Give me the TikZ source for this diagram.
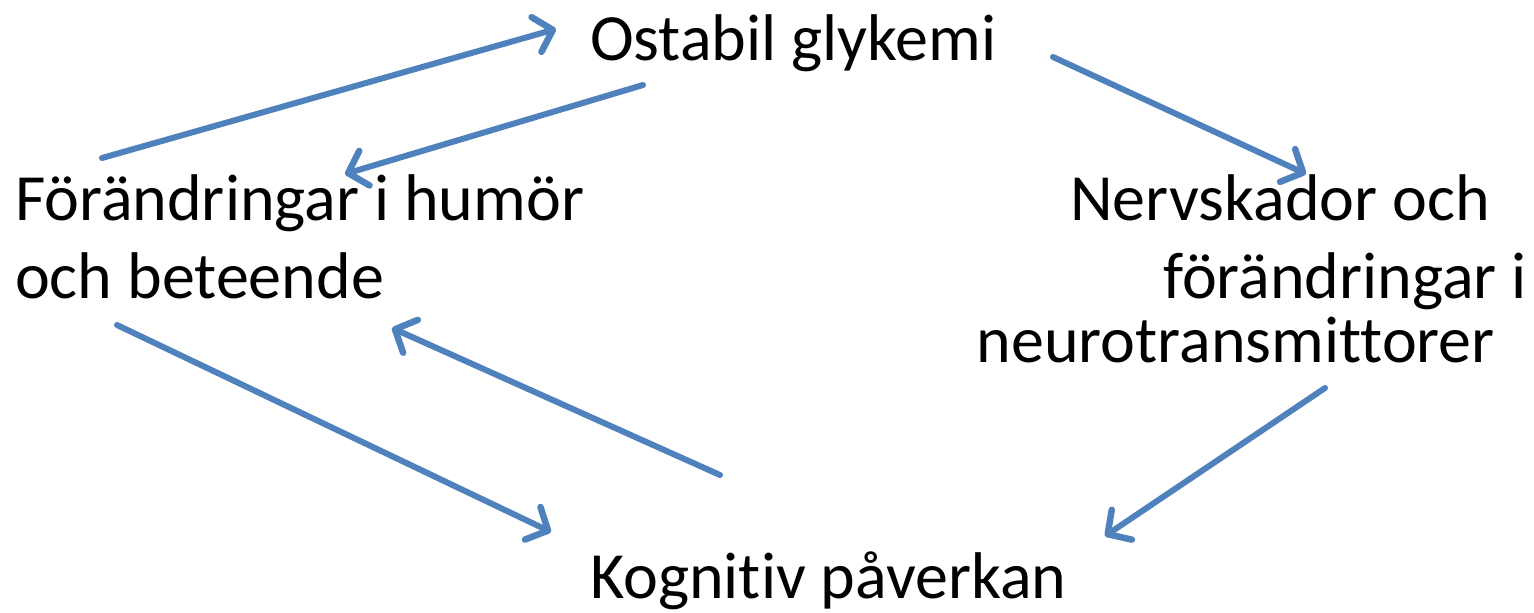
\documentclass[tikz,border=0pt]{standalone}
\usepackage{fontspec}
\setmainfont[Ligatures={NoCommon}]{Carlito}
\usetikzlibrary{arrows.meta}
\definecolor{linkblue}{HTML}{4F81BD}
\tikzset{
  label/.style={inner sep=0pt, font=\fontsize{66}{78}\selectfont},
  link/.style={draw=linkblue, line width=6pt, line cap=round,
    -{Straight Barb[length=17pt,width=36pt,line width=6.5pt,round]}}
}
\begin{document}
\begin{tikzpicture}[x=1pt,y=-1pt]
  \useasboundingbox (0,0) rectangle (1534,613);
  % states
  \node[label, anchor=base west] (glyk) at (590,60) {Ostabil glykemi};
  \node[label, anchor=base west] (hum1) at (15,220) {Förändringar i humör};
  \node[label, anchor=base west] (hum2) at (15,298) {och beteende};
  \node[label, anchor=base east] (nerv1) at (1490,220) {Nervskador och};
  \node[label, anchor=base east] (nerv2) at (1527,298) {förändringar i};
  \node[label, anchor=base east] (nerv3) at (1495,362) {neurotransmittorer};
  \node[label, anchor=base west] (kogn) at (590,598) {Kognitiv påverkan};
  % arrow end points
  \coordinate (a1s) at (102,158);  \coordinate (a1e) at (556,29);
  \coordinate (a2s) at (643,85);   \coordinate (a2e) at (345,174);
  \coordinate (a3s) at (1053,57);  \coordinate (a3e) at (1306,174);
  \coordinate (a4s) at (1325,388); \coordinate (a4e) at (1105,536);
  \coordinate (a5s) at (117,325);  \coordinate (a5e) at (551,532);
  \coordinate (a6s) at (720,475);  \coordinate (a6e) at (392,328);
  % links
  \draw[link] (a1s) -- (a1e);
  \draw[link] (a2s) -- (a2e);
  \draw[link] (a3s) -- (a3e);
  \draw[link] (a4s) -- (a4e);
  \draw[link] (a5s) -- (a5e);
  \draw[link] (a6s) -- (a6e);
\end{tikzpicture}
\end{document}
